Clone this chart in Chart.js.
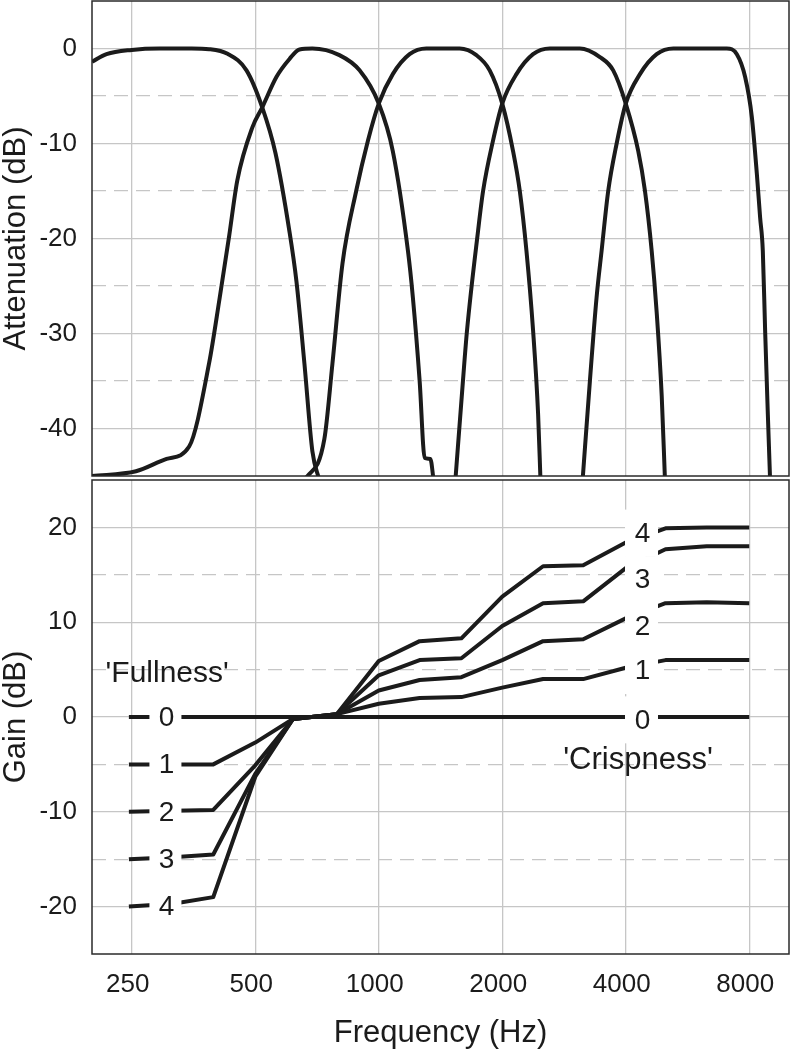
<!DOCTYPE html>
<html>
<head>
<meta charset="utf-8">
<script src="https://cdn.jsdelivr.net/npm/chart.js@4.4.1/dist/chart.umd.min.js"></script>
<style>
html,body{margin:0;padding:0;background:#fff;}
#w1{position:absolute;left:0;top:0;width:790px;height:478px;}
#w2{position:absolute;left:0;top:478px;width:790px;height:572px;}
</style>
</head>
<body>
<div id="w1"><canvas id="c1"></canvas></div>
<div id="w2"><canvas id="c2"></canvas></div>
<script>
// ---------- tick values ----------
const freqTicks = [250, 500, 1000, 2000, 4000, 8000];
const attenMajorTicks = [-40, -30, -20, -10, 0];
const attenMinorTicks = [-35, -25, -15, -5];
const gainMajorTicks = [-20, -10, 0, 10, 20];
const gainMinorTicks = [-15, -5, 5, 15];

// ---------- top panel: filter bands (Hz, dB) ----------
const band1Freq = [200, 217, 250, 292, 350, 386, 428, 476, 520, 560, 606, 630, 659, 689, 717];
const band1Db   = [-1.4, -0.6, -0.15, 0, 0, -0.07, -0.56, -2.3, -6.2, -11, -19.3, -24.5, -33.2, -42.4, -45.5];

const band2Freq = [200, 256, 304, 345, 386, 409, 432, 452, 492, 520, 563, 606, 641, 689, 802, 898, 1000, 1082, 1178, 1211, 1258, 1294, 1336, 1361];
const band2Db   = [-45, -44.5, -43.2, -41.9, -33.1, -26.4, -19.7, -13.9, -8.3, -6.2, -3, -1.1, -0.1, 0, -0.7, -2.3, -5.8, -10.8, -21.3, -26.2, -35, -43.1, -43.2, -45.5];

const band3Freq = [659, 737, 771, 816, 881, 941, 1000, 1082, 1189, 1306, 1575, 1730, 1864, 2000, 2125, 2207, 2291, 2378, 2446, 2479];
const band3Db   = [-45.5, -41.1, -33.2, -22.6, -15, -9.7, -5.8, -2.7, -0.6, 0, 0, -0.7, -2.3, -5.8, -10.8, -15, -21.3, -29.7, -38.5, -45.5];

const band4Freq = [1537, 1604, 1641, 1746, 1796, 1899, 2000, 2166, 2378, 2612, 3092, 3460, 3728, 4000, 4291, 4456, 4627, 4759, 4895, 4986];
const band4Db   = [-45.5, -35, -29.7, -19.2, -15, -9.7, -5.8, -2.7, -0.6, 0, 0, -0.9, -2.3, -5.8, -10.8, -15, -21.3, -27.8, -36.6, -45.5];

const band5Freq = [3139, 3271, 3396, 3493, 3625, 3801, 4000, 4332, 4759, 5224, 7053, 7462, 7818, 8117, 8349, 8504, 8633, 8746, 8880, 8995];
const band5Db   = [-45.5, -35, -26.2, -21.3, -15, -10, -5.8, -2.7, -0.6, 0, 0, -0.6, -3, -7.2, -13.2, -17.8, -21.3, -29.7, -38.5, -45.5];

// ---------- bottom panel: gain curves (Hz, dB) ----------
const gainFreq   = [246, 315, 395, 500, 618, 790, 1000, 1258, 1590, 2000, 2515, 3150, 4000, 5000, 6300, 8000];
const gainLevel0 = [0, 0, 0, 0, 0, 0, 0, 0, 0, 0, 0, 0, 0, 0, 0, 0];
const gainLevel1 = [-5, -5, -5, -2.7, -0.2, 0.3, 1.4, 2.0, 2.1, 3.1, 4.0, 4.0, 5.2, 6.0, 6.0, 6.0];
const gainLevel2 = [-10, -9.9, -9.8, -5.1, -0.2, 0.3, 2.8, 3.9, 4.2, 6.0, 8.0, 8.2, 10.4, 12.0, 12.1, 12.0];
const gainLevel3 = [-15, -14.8, -14.5, -6.0, -0.2, 0.3, 4.4, 6.0, 6.2, 9.6, 12.0, 12.2, 15.7, 17.7, 18.0, 18.0];
const gainLevel4 = [-20, -19.7, -19.0, -6.3, -0.2, 0.3, 5.9, 8.0, 8.3, 12.7, 15.9, 16.0, 18.4, 19.9, 20.0, 20.0];

// ---------- annotation texts ----------
const fullnessLabels = ['0', '1', '2', '3', '4'];
const fullnessLabelGain = [0, -5, -10, -15, -20];
const crispLabels = ['0', '1', '2', '3', '4'];
const crispLabelGain = [-0.3, 4.9, 9.6, 14.5, 19.4];
const fullnessTitle = "'Fullness'";
const crispTitle = "'Crispness'";

// ---------- styling / anchors ----------
const FONT = '"Liberation Sans", Arial, Helvetica, sans-serif';
const INK = '#1b1b1b';
const GRID = '#c6c6c6';
const fullnessLabelFreq = 302, crispLabelFreq = 4370;
const fullnessTitleAt = {f: 305, g: 3.72};
const crispTitleAt = {f: 4284, g: -5.45};

Chart.defaults.font.family = FONT;
Chart.defaults.color = INK;

const pts = (fs, vs) => fs.map((f, i) => ({x: f, y: vs[i]}));
const setTicks = (vals) => (s) => { s.ticks = vals.map(v => ({value: v})); };
const noPad = (s) => { s.paddingTop = 0; s.paddingBottom = 0; s.paddingLeft = 0; s.paddingRight = 0; };

const framePlugin = {
  id: 'frame',
  afterDraw(chart) {
    const {ctx, chartArea: a} = chart;
    ctx.save();
    ctx.strokeStyle = '#2a2a2a';
    ctx.lineWidth = 1.5;
    ctx.strokeRect(a.left, a.top, a.right - a.left, a.bottom - a.top);
    ctx.restore();
  }
};

function lineDs(fs, vs, smooth) {
  return {
    data: pts(fs, vs),
    borderColor: INK,
    borderWidth: 4,
    pointRadius: 0,
    fill: false,
    tension: 0,
    cubicInterpolationMode: smooth ? 'monotone' : 'default',
    borderJoinStyle: 'round',
    borderCapStyle: 'butt'
  };
}

function xScale(showTicks, heightPx) {
  return {
    type: 'logarithmic',
    min: 200, max: 10000,
    afterBuildTicks: setTicks(freqTicks),
    afterFit: (s) => { s.height = heightPx; noPad(s); },
    grid: {color: GRID, lineWidth: 1.3, drawTicks: false},
    border: {display: false},
    ticks: {display: showTicks, padding: 15, labelOffset: -4, font: {size: 26}, color: INK, callback: (v) => String(v), maxRotation: 0, autoSkip: false},
    title: showTicks ? {display: true, text: 'Frequency (Hz)', font: {size: 31}, color: INK, padding: {top: 0, bottom: -2}} : {display: false}
  };
}

function yScales(min, max, major, minor, title) {
  return {
    y: {
      type: 'linear', position: 'left', min, max,
      afterBuildTicks: setTicks(major),
      afterFit: (s) => { s.width = 92; noPad(s); },
      grid: {color: GRID, lineWidth: 1.3, drawTicks: false},
      border: {display: false},
      ticks: {padding: 15, font: {size: 26}, color: INK, callback: (v) => String(v)},
      title: {display: true, text: title, font: {size: 31}, color: INK, padding: {top: -2, bottom: 0}}
    },
    yMinor: {
      type: 'linear', position: 'left', min, max,
      afterBuildTicks: setTicks(minor),
      afterFit: (s) => { s.width = 0; noPad(s); },
      grid: {color: GRID, lineWidth: 1.3, drawTicks: false},
      border: {display: false, dash: [14, 8]},
      ticks: {display: false}
    }
  };
}

// ---------- top chart ----------
new Chart(document.getElementById('c1'), {
  type: 'line',
  data: {
    datasets: [
      lineDs(band1Freq, band1Db, true),
      lineDs(band2Freq, band2Db, true),
      lineDs(band3Freq, band3Db, true),
      lineDs(band4Freq, band4Db, true),
      lineDs(band5Freq, band5Db, true)
    ]
  },
  options: {
    responsive: true, maintainAspectRatio: false, animation: false, devicePixelRatio: 1,
    events: [],
    layout: {padding: {top: 1, right: 1, bottom: 2, left: 0}},
    plugins: {legend: {display: false}, tooltip: {enabled: false}},
    scales: Object.assign({x: xScale(false, 0)}, yScales(-45, 5, attenMajorTicks, attenMinorTicks, 'Attenuation (dB)'))
  },
  plugins: [framePlugin]
});

// ---------- bottom chart ----------
const annotPlugin = {
  id: 'annot',
  afterDatasetsDraw(chart) {
    const {ctx} = chart;
    const x = chart.scales.x, y = chart.scales.y;
    ctx.save();
    const column = (freq, gains, texts, w) => {
      const cx = x.getPixelForValue(freq);
      ctx.fillStyle = '#ffffff';
      gains.forEach((g) => {
        const cy = y.getPixelForValue(g);
        ctx.fillRect(cx - w / 2, cy - 23.5, w, 47);
      });
      ctx.fillStyle = INK;
      ctx.font = '28px ' + FONT;
      ctx.textAlign = 'center';
      ctx.textBaseline = 'middle';
      gains.forEach((g, i) => ctx.fillText(texts[i], cx + 1, y.getPixelForValue(g) + 1));
    };
    column(fullnessLabelFreq, fullnessLabelGain, fullnessLabels, 32);
    column(crispLabelFreq, crispLabelGain, crispLabels, 33);
    ctx.fillStyle = INK;
    ctx.textAlign = 'center';
    ctx.textBaseline = 'alphabetic';
    ctx.font = '30px ' + FONT;
    ctx.fillText(fullnessTitle, x.getPixelForValue(fullnessTitleAt.f), y.getPixelForValue(fullnessTitleAt.g));
    ctx.font = '31px ' + FONT;
    ctx.fillText(crispTitle, x.getPixelForValue(crispTitleAt.f), y.getPixelForValue(crispTitleAt.g));
    ctx.restore();
  }
};

new Chart(document.getElementById('c2'), {
  type: 'line',
  data: {
    datasets: [
      lineDs(gainFreq, gainLevel0, false),
      lineDs(gainFreq, gainLevel1, false),
      lineDs(gainFreq, gainLevel2, false),
      lineDs(gainFreq, gainLevel3, false),
      lineDs(gainFreq, gainLevel4, false)
    ]
  },
  options: {
    responsive: true, maintainAspectRatio: false, animation: false, devicePixelRatio: 1,
    events: [],
    layout: {padding: {top: 2, right: 1, bottom: 0, left: 0}},
    plugins: {legend: {display: false}, tooltip: {enabled: false}},
    scales: Object.assign({x: xScale(true, 96)}, yScales(-25, 25, gainMajorTicks, gainMinorTicks, 'Gain (dB)'))
  },
  plugins: [annotPlugin, framePlugin]
});
</script>
</body>
</html>
